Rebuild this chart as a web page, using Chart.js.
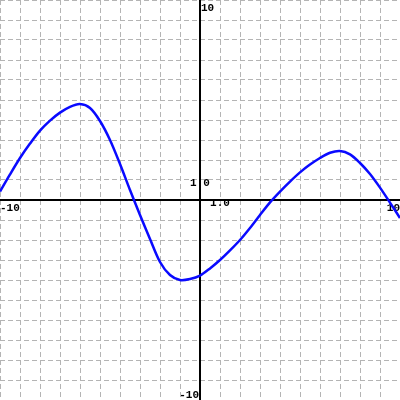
<!DOCTYPE html>
<html>
<head>
<meta charset="utf-8">
<script src="https://cdn.jsdelivr.net/npm/chart.js@4"></script>
<style>
  html, body { margin: 0; padding: 0; background: #fff; }
  #wrap { width: 400px; height: 400px; }
</style>
</head>
<body>
<div id="wrap"><canvas id="c"></canvas></div>
<script>
// curve samples, every half unit
const xs = [-10, -9.5, -9, -8.5, -8, -7.5, -7, -6.5, -6, -5.5, -5, -4.5, -4, -3.5, -3, -2.5, -2, -1.5, -1, -0.5,
            0, 0.5, 1, 1.5, 2, 2.5, 3, 3.5, 4, 4.5, 5, 5.5, 6, 6.5, 7, 7.5, 8, 8.5, 9, 9.5, 10];
const ys = [0.42, 1.28, 2.1, 2.82, 3.47, 3.97, 4.37, 4.66, 4.8, 4.6, 3.95, 3.0, 1.8, 0.5, -0.75, -1.95, -3.1, -3.75, -4.0, -3.95,
            -3.78, -3.42, -3.0, -2.52, -2.0, -1.4, -0.75, -0.12, 0.42, 0.92, 1.38, 1.77, 2.1, 2.36, 2.45, 2.28, 1.85, 1.3, 0.62, -0.13, -0.9];
const xRange = [-10, 10];
const yRange = [-10, 10];
const unitLabel = '1.0';

const FONT = 'bold 11px "Liberation Mono", "DejaVu Sans Mono", monospace';

// axes through the origin + the end/unit labels, like the old graphing applet
const axesPlugin = {
  id: 'axes',
  beforeDatasetsDraw(chart) {
    const { ctx, scales: { x, y }, chartArea: a } = chart;
    const x0 = Math.round(x.getPixelForValue(0));
    const y0 = Math.round(y.getPixelForValue(0));
    ctx.save();
    ctx.strokeStyle = '#000';
    ctx.lineWidth = 2;
    ctx.beginPath();
    ctx.moveTo(a.left, y0); ctx.lineTo(a.right, y0);
    ctx.moveTo(x0, a.top); ctx.lineTo(x0, a.bottom);
    ctx.stroke();

    ctx.fillStyle = '#000';
    ctx.font = FONT;
    ctx.textBaseline = 'alphabetic';
    ctx.textAlign = 'left';
    ctx.fillText(String(yRange[1]), x0 + 1, y.getPixelForValue(yRange[1]) + 11);
    ctx.fillText(String(xRange[0]), x.getPixelForValue(xRange[0]), y0 + 11);
    ctx.textAlign = 'right';
    ctx.fillText(String(yRange[0]), x0 - 1, y.getPixelForValue(yRange[0]) - 2);
    ctx.fillText(String(xRange[1]), x.getPixelForValue(xRange[1]), y0 + 11);
    ctx.textAlign = 'center';
    ctx.fillText(unitLabel, x0, y.getPixelForValue(1) + 6);
    ctx.fillText(unitLabel, x.getPixelForValue(1), y0 + 6);
    ctx.restore();
  }
};

const gridOpts = () => ({
  color: '#b4b4b4',
  lineWidth: 1,
  drawTicks: false,
});

new Chart(document.getElementById('c'), {
  type: 'line',
  data: {
    datasets: [{
      data: xs.map((v, i) => ({ x: v, y: ys[i] })),
      borderColor: '#0a0aff',
      borderWidth: 2.5,
      pointRadius: 0,
      tension: 0.3,
      fill: false,
    }],
  },
  options: {
    responsive: true,
    maintainAspectRatio: false,
    animation: false,
    layout: { padding: 0 },
    plugins: { legend: { display: false }, tooltip: { enabled: false } },
    scales: {
      x: {
        type: 'linear', min: xRange[0], max: xRange[1],
        ticks: { display: false, stepSize: 1 },
        grid: gridOpts(),
        border: { display: false, dash: [5, 3] },
      },
      y: {
        type: 'linear', min: yRange[0], max: yRange[1],
        ticks: { display: false, stepSize: 1 },
        grid: gridOpts(),
        border: { display: false, dash: [5, 3] },
      },
    },
  },
  plugins: [axesPlugin],
});
</script>
</body>
</html>
